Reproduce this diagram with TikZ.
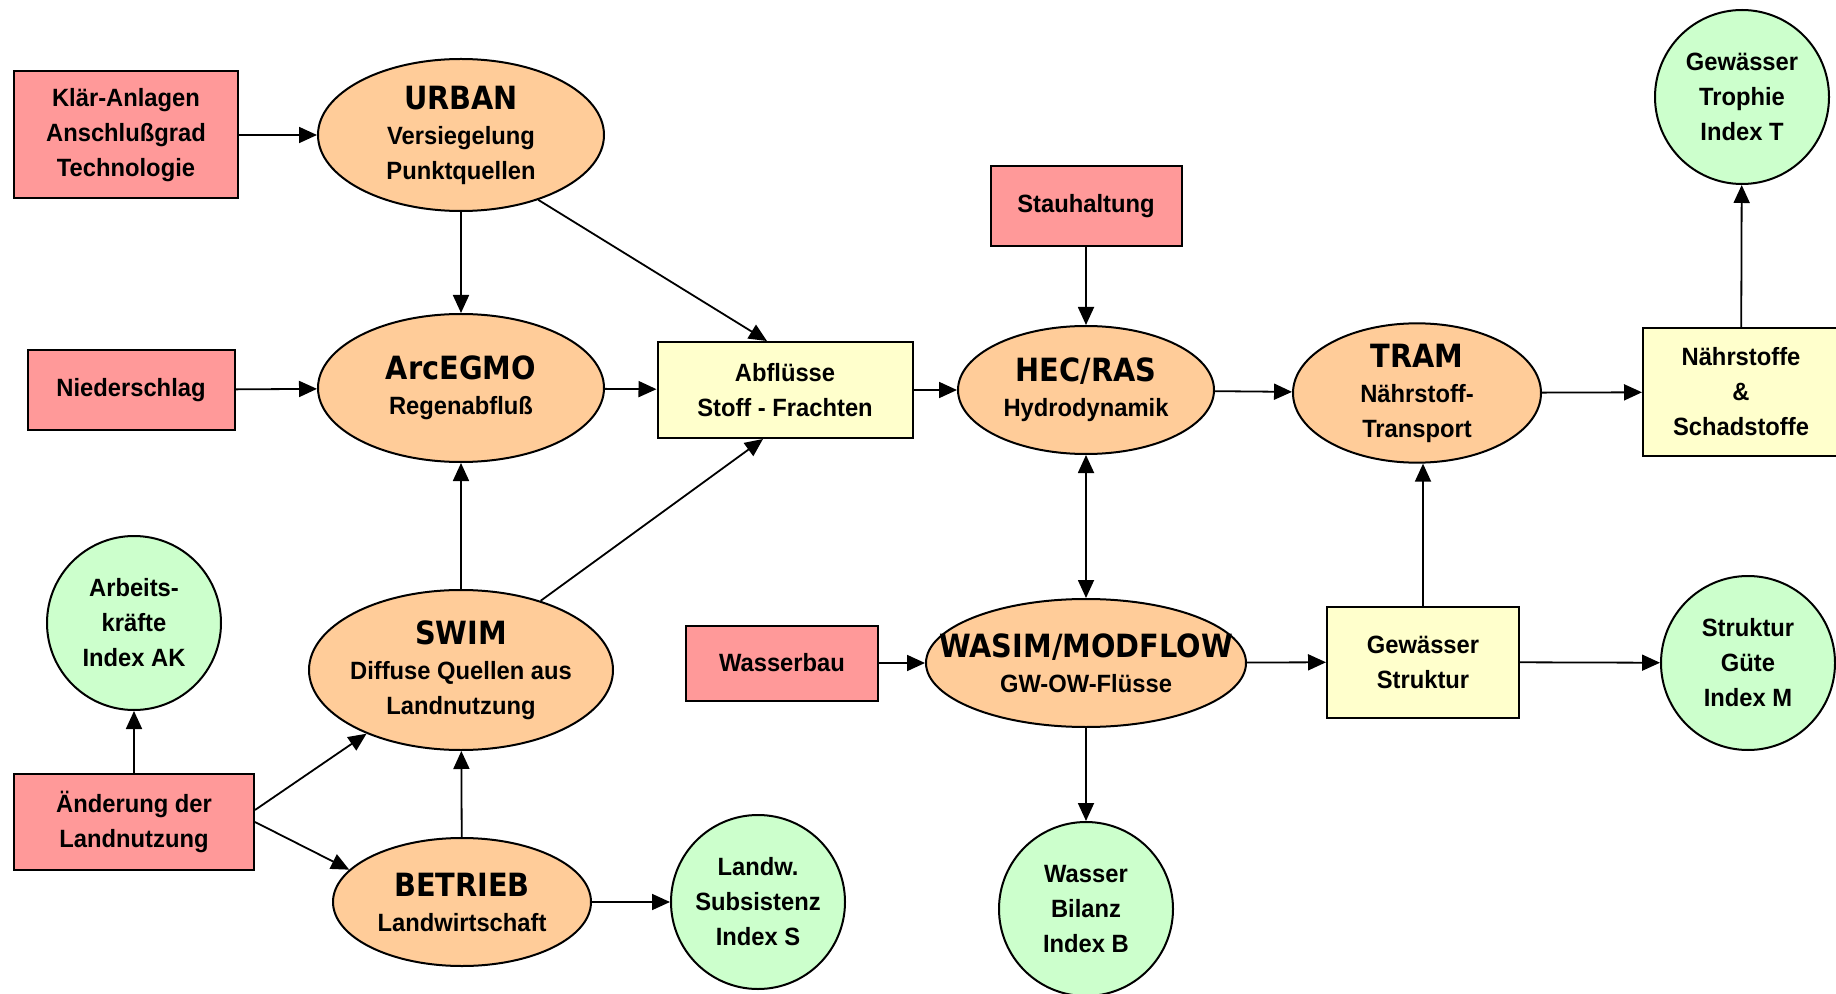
\documentclass[tikz,border=0pt]{standalone}
\usepackage{fontspec}
\setmainfont{Liberation Sans}[FakeStretch=0.95]
\newfontfamily\titlefont{DejaVu Sans}[FakeStretch=0.9]
\usetikzlibrary{shapes.geometric,arrows.meta,calc}
\definecolor{inred}{HTML}{FF9999}
\definecolor{modorange}{HTML}{FFCC99}
\definecolor{resyellow}{HTML}{FFFFCC}
\definecolor{idxgreen}{HTML}{CCFFCC}
\newcommand\ttl[1]{{\titlefont\bfseries\fontsize{16}{19}\selectfont #1}}
\begin{document}
\begin{tikzpicture}[x=0.5pt,y=-0.5pt,
	every node/.style={draw,line width=1pt,align=center,
		font=\bfseries\fontsize{12.5}{17.5}\selectfont},
	input/.style={rectangle,fill=inred},
	model/.style={ellipse,fill=modorange,inner sep=0pt},
	result/.style={rectangle,fill=resyellow},
	index/.style={circle,fill=idxgreen,inner sep=0pt,minimum size=87pt},
	arr/.style={-{Triangle[length=9pt,width=8pt]},line width=0.9pt},
	arrboth/.style={{Triangle[length=9pt,width=8pt]}-{Triangle[length=9pt,width=8pt]},line width=0.9pt}]
	\useasboundingbox (0,0) rectangle (1836,994);
	
	\node[input, minimum width=112pt, minimum height=63.5pt] (klaer) at (126,135) {Klär-Anlagen\\Anschlußgrad\\Technologie};
	\node[input, minimum width=103.5pt, minimum height=40pt] (nieder) at (131,390) {Niederschlag};
	\node[input, minimum width=120pt, minimum height=48pt] (aender) at (134,822) {Änderung der\\Landnutzung};
	\node[input, minimum width=95.5pt, minimum height=40pt] (stau) at (1086,206) {Stauhaltung};
	\node[input, minimum width=96pt, minimum height=37.5pt] (wbau) at (782,663) {Wasserbau};
	
	\node[model, minimum width=143pt, minimum height=76pt] (urban) at (461,135) {\ttl{URBAN}\\Versiegelung\\Punktquellen};
	\node[model, minimum width=143pt, minimum height=74pt] (arc) at (461,388) {\ttl{ArcEGMO}\\Regenabfluß};
	\node[model, minimum width=152pt, minimum height=80pt, inner xsep=-8pt] (swim) at (461,670) {\ttl{SWIM}\\Diffuse Quellen aus\\Landnutzung};
	\node[model, minimum width=129pt, minimum height=64pt] (betrieb) at (462,902) {\ttl{BETRIEB}\\Landwirtschaft};
	\node[model, minimum width=128pt, minimum height=64pt] (hec) at (1086,390) {\ttl{HEC/RAS}\\Hydrodynamik};
	\node[model, minimum width=160pt, minimum height=64pt, inner xsep=-30pt] (wasim) at (1086,663) {\ttl{WASIM/MODFLOW}\\GW-OW-Flüsse};
	\node[model, minimum width=124pt, minimum height=66pt] (tram) at (1417,393) {\ttl{TRAM}\\Nährstoff-\\Transport};
	
	\node[result, minimum width=127.5pt, minimum height=48pt] (abfl) at (785,390) {Abflüsse\\Stoff - Frachten};
	\node[result, minimum width=98pt, minimum height=64pt] (naehr) at (1741,392) {Nährstoffe\\\&\\Schadstoffe};
	\node[result, minimum width=96pt, minimum height=55.5pt] (gstr) at (1423,662) {Gewässer\\Struktur};
	
	\node[index] (troph) at (1742,97) {Gewässer\\Trophie\\Index T};
	\node[index] (arbeit) at (134,623) {Arbeits-\\kräfte\\Index AK};
	\node[index] (landw) at (758,902) {Landw.\\Subsistenz\\Index S};
	\node[index] (sguete) at (1748,663) {Struktur\\Güte\\Index M};
	\node[index] (bilanz) at (1086,909) {Wasser\\Bilanz\\Index B};
	
	\coordinate (abfltop) at ($(abfl.north)+(-18,0)$);
	\coordinate (abflbot) at ($(abfl.south)+(-22,0)$);
	\coordinate (aendup) at ($(aender.east)+(0,-12)$);
	
	\path (klaer) edge[arr] (urban);
	\path (urban) edge[arr] (arc);
	\path (urban.-40) edge[arr] (abfltop);
	\path (nieder) edge[arr] (arc);
	\path (arc) edge[arr] (abfl);
	\path (swim) edge[arr] (arc);
	\path (swim.41) edge[arr] (abflbot);
	\path (abfl) edge[arr] (hec);
	\path (stau) edge[arr] (hec);
	\path (hec) edge[arrboth] (wasim);
	\path (hec) edge[arr] (tram);
	\path (tram) edge[arr] (naehr);
	\path (naehr) edge[arr] (troph);
	\path (wbau) edge[arr] (wasim);
	\path (wasim) edge[arr] (gstr);
	\path (gstr.north) edge[arr] (gstr.north |- tram.south);
	\path (gstr) edge[arr] (sguete);
	\path (wasim) edge[arr] (bilanz);
	\path (aender) edge[arr] (arbeit);
	\path (aendup) edge[arr] (swim.214);
	\path (aender.east) edge[arr] (betrieb.164);
	\path (betrieb) edge[arr] (swim);
	\path (betrieb) edge[arr] (landw);
\end{tikzpicture}
\end{document}
